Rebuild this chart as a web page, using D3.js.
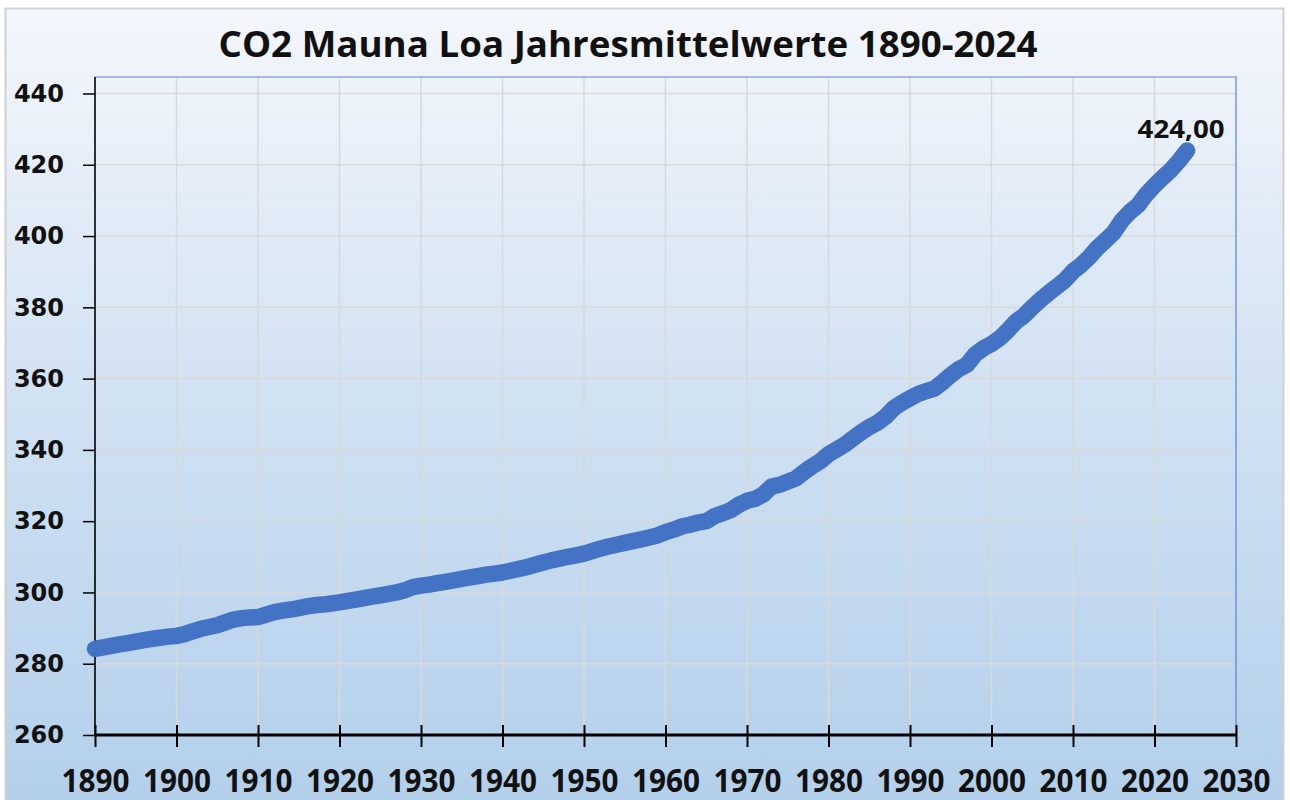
<!DOCTYPE html>
<html>
<head>
<meta charset="utf-8">
<script src="https://cdn.jsdelivr.net/npm/d3@7"></script>
<style>
  html, body { margin: 0; padding: 0; background: #ffffff; }
  svg { display: block; }
</style>
</head>
<body>
<svg id="chart" width="1290" height="800"></svg>
<script>
// ---- data ----
const title = "CO2 Mauna Loa Jahresmittelwerte 1890-2024";
const startYear = 1890;
const co2Values = [
  284.2, 284.6, 285.0, 285.4, 285.8, 286.2, 286.6, 287.0, 287.3, 287.6, // 1890-1899
  287.8, 288.3, 289.1, 289.8, 290.3, 290.8, 291.6, 292.4, 292.8, 293.0, // 1900-1909
  293.1, 293.8, 294.5, 294.9, 295.2, 295.6, 296.1, 296.4, 296.6, 296.9, // 1910-1919
  297.2, 297.6, 298.0, 298.4, 298.8, 299.2, 299.6, 300.0, 300.6, 301.5, // 1920-1929
  301.9, 302.2, 302.6, 303.0, 303.4, 303.8, 304.2, 304.6, 305.0, 305.3, // 1930-1939
  305.6, 306.1, 306.6, 307.1, 307.8, 308.4, 309.0, 309.5, 310.0, 310.4, // 1940-1949
  310.9, 311.6, 312.3, 312.9, 313.4, 313.9, 314.4, 314.9, 315.4, 316.0, // 1950-1959
  316.9, 317.6, 318.5, 319.0, 319.6, 320.0, 321.4, 322.2, 323.1, 324.6, // 1960-1969
  325.7, 326.3, 327.5, 329.7, 330.2, 331.1, 332.0, 333.8, 335.4, 336.8, // 1970-1979
  338.8, 340.1, 341.5, 343.2, 344.9, 346.4, 347.6, 349.3, 351.7, 353.2, // 1980-1989
  354.5, 355.7, 356.5, 357.2, 359.0, 361.0, 362.7, 363.9, 366.8, 368.5, // 1990-1999
  369.7, 371.3, 373.5, 376.0, 377.7, 380.0, 382.1, 384.0, 385.8, 387.6, // 2000-2009
  390.1, 391.9, 394.1, 396.7, 398.8, 401.0, 404.4, 406.8, 408.7, 411.7, // 2010-2019
  414.2, 416.4, 418.5, 421.1, 424.0                                     // 2020-2024
];
const years = co2Values.map((_, i) => startYear + i);
const xTicks = [1890, 1900, 1910, 1920, 1930, 1940, 1950, 1960, 1970, 1980, 1990, 2000, 2010, 2020, 2030];
const yTicks = [260, 280, 300, 320, 340, 360, 380, 400, 420, 440];
const lastLabel = "424,00";

// ---- layout ----
const W = 1290, H = 800;
const plot = { left: 95, right: 1236, top: 77, bottom: 735 };

const svg = d3.select("#chart");

const defs = svg.append("defs");
const grad = defs.append("linearGradient")
  .attr("id", "bg").attr("x1", 0).attr("y1", 0).attr("x2", 0).attr("y2", 1);
grad.append("stop").attr("offset", "0%").attr("stop-color", "#f4f7fc");
grad.append("stop").attr("offset", "45%").attr("stop-color", "#d3e3f3");
grad.append("stop").attr("offset", "100%").attr("stop-color", "#b2cfea");

// chart area
svg.append("rect")
  .attr("x", 5.5).attr("y", 8.5).attr("width", 1278).attr("height", 800)
  .attr("fill", "url(#bg)")
  .attr("stroke", "#d0d0d0").attr("stroke-width", 2);

const x = d3.scaleLinear().domain([1890, 2030]).range([plot.left, plot.right]);
const y = d3.scaleLinear().domain([260, 440]).range([plot.bottom, 93.5]);

// gridlines
const grid = svg.append("g");
grid.selectAll("line.v").data(xTicks.slice(1, -1)).join("line")
  .attr("x1", d => x(d)).attr("x2", d => x(d))
  .attr("y1", plot.top).attr("y2", plot.bottom)
  .attr("stroke", "#d9d9d9").attr("stroke-width", 1.5);
grid.selectAll("line.h").data(yTicks.slice(1)).join("line")
  .attr("x1", plot.left).attr("x2", plot.right)
  .attr("y1", d => y(d)).attr("y2", d => y(d))
  .attr("stroke", "#d9d9d9").attr("stroke-width", 1.5);

// plot area border (top / right in blue)
svg.append("path")
  .attr("d", `M${plot.left},${plot.top}H${plot.right}V${plot.bottom}`)
  .attr("fill", "none").attr("stroke", "#5b84d0").attr("stroke-width", 1.2);

// y axis
const yAxis = d3.axisLeft(y).tickValues(yTicks).tickSize(12).tickPadding(19).tickFormat(d3.format("d"));
const gy = svg.append("g").attr("transform", `translate(${plot.left},0)`).call(yAxis);
gy.select(".domain").remove();
gy.selectAll(".tick line").attr("stroke", "#000").attr("stroke-width", 1.5);
gy.selectAll(".tick text")
  .attr("font-family", "'DejaVu Sans', Verdana, sans-serif")
  .attr("font-weight", "bold").attr("font-size", 24).attr("fill", "#111");
svg.append("line")
  .attr("x1", plot.left).attr("x2", plot.left)
  .attr("y1", plot.top).attr("y2", plot.bottom)
  .attr("stroke", "#000").attr("stroke-width", 1.6);

// x axis
const xAxis = d3.axisBottom(x).tickValues(xTicks).tickSize(12).tickPadding(22).tickFormat(d3.format("d"));
const gx = svg.append("g").attr("transform", `translate(0,${plot.bottom})`).call(xAxis);
gx.select(".domain").remove();
gx.selectAll(".tick line").attr("stroke", "#000").attr("stroke-width", 2).attr("y1", -10);
gx.selectAll(".tick text")
  .attr("font-family", "'Open Sans', 'Noto Sans', sans-serif")
  .attr("font-weight", "bold").attr("font-size", 32).attr("fill", "#111")
  .attr("textLength", 68).attr("lengthAdjust", "spacingAndGlyphs");
svg.append("line")
  .attr("x1", plot.left - 1).attr("x2", plot.right + 1)
  .attr("y1", plot.bottom).attr("y2", plot.bottom)
  .attr("stroke", "#000").attr("stroke-width", 3);

// the CO2 line
const line = d3.line().x((d, i) => x(years[i])).y(d => y(d)).curve(d3.curveLinear);
svg.append("path")
  .datum(co2Values)
  .attr("d", line)
  .attr("fill", "none")
  .attr("stroke", "#4472c4")
  .attr("stroke-width", 16.5)
  .attr("stroke-linejoin", "round")
  .attr("stroke-linecap", "round");

// end label
const lastYear = years[years.length - 1];
const lastVal = co2Values[co2Values.length - 1];
svg.append("text")
  .attr("x", x(lastYear) - 6).attr("y", y(lastVal) - 13)
  .attr("text-anchor", "middle")
  .attr("font-family", "'Open Sans', 'Noto Sans', sans-serif")
  .attr("font-weight", "bold").attr("font-size", 25).attr("fill", "#111")
  .attr("textLength", 87).attr("lengthAdjust", "spacingAndGlyphs")
  .text(lastLabel);

// title
svg.append("text")
  .attr("x", 628).attr("y", 57)
  .attr("text-anchor", "middle")
  .attr("font-family", "'Open Sans', 'Noto Sans', sans-serif")
  .attr("font-weight", "bold").attr("font-size", 36).attr("fill", "#111")
  .attr("textLength", 819).attr("lengthAdjust", "spacingAndGlyphs")
  .text(title);
</script>
</body>
</html>
